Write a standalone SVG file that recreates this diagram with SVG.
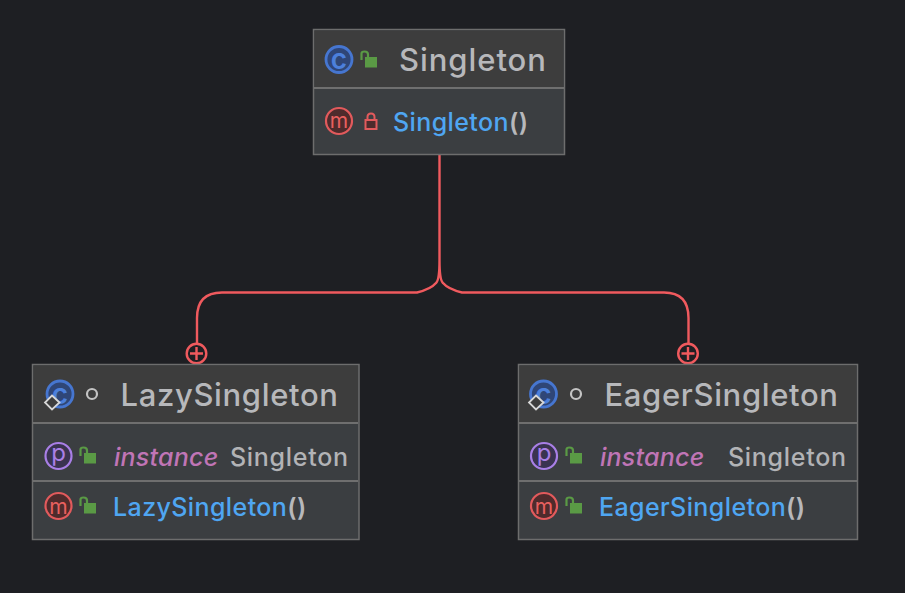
<svg xmlns="http://www.w3.org/2000/svg" width="905" height="593" viewBox="0 0 905 593">
<style>
.box{fill:#3b3e41;stroke:#6d6d6d;stroke-width:1.5}
.head{fill:#3d3d3d}
.sep{stroke:#6f6f6f;stroke-width:1.8;fill:none}
text{font-family:"Inter","Noto Sans","Liberation Sans",sans-serif;font-weight:500}
.title{font-size:31px;fill:#b7b8bb;letter-spacing:.95px}
.tight{letter-spacing:.65px}
.member{font-size:25px;fill:#4fa6f2;letter-spacing:.4px}
.paren{fill:#b7b8bb;font-weight:600}
.type{font-size:25px;fill:#b2b3b6;letter-spacing:.7px}
.field{font-size:25px;fill:#c075b6;font-style:italic;letter-spacing:.25px}
.conn{fill:none;stroke:#f05a5e;stroke-width:2.4}
.ic{text-anchor:middle;font-weight:400}
.ic-c{font-size:28px;fill:#4c80dc;font-weight:600}
.ic-m{font-size:21px;fill:#e8605f}
.ic-p{font-size:24px;fill:#a97fe6}
.cc{fill:#2f4677;stroke:#4676d0;stroke-width:2.8}
.cm{fill:#4e2b2c;stroke:#e25a5c;stroke-width:2.2}
.cp{fill:#3a3350;stroke:#a97fe6;stroke-width:2.2}
.lock{fill:#5a9a45}
.shack{fill:none;stroke:#5a9a45;stroke-width:2.2}
.dia{fill:#3d3d3d;stroke:#d7d7d7;stroke-width:1.8}
.dot{fill:none;stroke:#c4c4c4;stroke-width:2.2}
</style>
<defs>
<g id="open"><rect x="1" y="-4" width="12" height="10.500" class="lock"/><path d="M-2.500 -1V-7.500Q-2.500 -9.500 0.500 -9.500Q4 -9.500 4 -6.500V-3.500" class="shack"/></g>
</defs>
<rect width="905" height="593" fill="#1e1f23"/>
<g id="connectors">
<path class="conn" d="M439.500 154V260Q439.500 280 436 283Q431 289 417 292.500H222Q197 292.500 197 318V344M439.500 260Q439.500 280 443 283Q448 289 462 292.500H664Q688.500 292.500 688.500 318V344"/>
<circle class="conn" cx="196.500" cy="353.500" r="9.800"/>
<path class="conn" d="M190 353.500H203M196.500 347V360"/>
<circle class="conn" cx="688" cy="353.500" r="9.800"/>
<path class="conn" d="M681.500 353.500H694.500M688 347V360"/>
</g>
<g id="singleton">
<rect class="box" x="313.500" y="29.500" width="251" height="125"/>
<rect class="head" x="314.500" y="30.500" width="249" height="57"/>
<path class="sep" d="M314 88H564"/>
<circle class="cc" cx="339" cy="59.500" r="13"/>
<text class="ic ic-c" x="339" y="69">c</text>
<use href="#open" x="364" y="61"/>
<text class="title" x="399" y="71">Singleton</text>
<circle class="cm" cx="339" cy="121" r="13"/>
<text class="ic ic-m" x="339" y="128">m</text>
<rect x="365.500" y="120" width="11" height="9" fill="#4e2b2c" stroke="#e25a5c" stroke-width="2"/>
<path d="M367.500 119.500V117Q367.500 113.500 371 113.500Q374.500 113.500 374.500 117V119.500" fill="none" stroke="#e25a5c" stroke-width="2"/>
<text class="member" x="393" y="131">Singleton<tspan class="paren">()</tspan></text>
</g>
<g id="lazy-singleton">
<rect class="box" x="32.500" y="364.500" width="326.500" height="175"/>
<rect class="head" x="33.500" y="365.500" width="324.500" height="57"/>
<path class="sep" d="M33 423H358M33 481H358"/>
<circle class="cc" cx="60" cy="394" r="13"/>
<text class="ic ic-c" x="60" y="403.500">c</text>
<path class="dia" d="M52 395.500L59.500 402.500L52 409.500L45 402.500Z"/>
<circle class="dot" cx="92" cy="394" r="5"/>
<text class="title tight" x="120.500" y="406">LazySingleton</text>
<circle class="cp" cx="58.500" cy="456" r="13"/>
<text class="ic ic-p" x="58.500" y="461">p</text>
<use href="#open" x="83" y="457"/>
<text class="field" x="114" y="466">instance</text>
<text class="type" x="230" y="466">Singleton</text>
<circle class="cm" cx="58.500" cy="506" r="13"/>
<text class="ic ic-m" x="58.500" y="513.500">m</text>
<use href="#open" x="83" y="507"/>
<text class="member" x="113" y="516">LazySingleton<tspan class="paren">()</tspan></text>
</g>
<g id="eager-singleton">
<rect class="box" x="518.500" y="364.500" width="339" height="175"/>
<rect class="head" x="519.500" y="365.500" width="337" height="57"/>
<path class="sep" d="M519 423H857M519 481H857"/>
<circle class="cc" cx="543.500" cy="394" r="13"/>
<text class="ic ic-c" x="543.500" y="403.500">c</text>
<path class="dia" d="M536 395.500L543.500 402.500L536 409.500L529 402.500Z"/>
<circle class="dot" cx="576" cy="394" r="5"/>
<text class="title tight" x="604.500" y="406">EagerSingleton</text>
<circle class="cp" cx="544" cy="456" r="13"/>
<text class="ic ic-p" x="544" y="461">p</text>
<use href="#open" x="569" y="457"/>
<text class="field" x="600" y="466">instance</text>
<text class="type" x="728" y="466">Singleton</text>
<circle class="cm" cx="544" cy="506" r="13"/>
<text class="ic ic-m" x="544" y="513.500">m</text>
<use href="#open" x="569" y="507"/>
<text class="member" x="599" y="516">EagerSingleton<tspan class="paren">()</tspan></text>
</g>
</svg>
